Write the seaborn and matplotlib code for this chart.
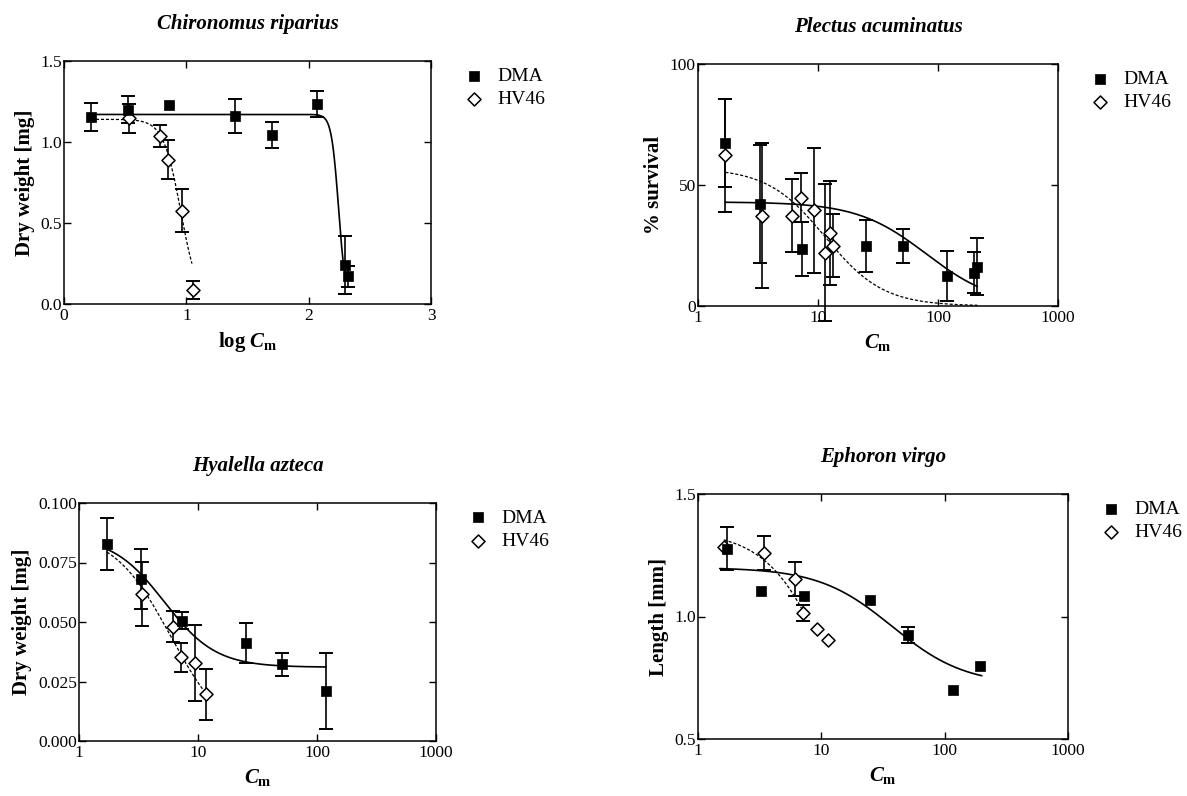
import numpy as np
import pandas as pd
import matplotlib
matplotlib.use("Agg")
import matplotlib.pyplot as plt
import seaborn as sns

sns.set_theme(style="ticks")
plt.rcParams["font.family"] = ["Liberation Serif", "DejaVu Serif"]
plt.rcParams["mathtext.fontset"] = "custom"
plt.rcParams["mathtext.rm"] = "Liberation Serif:bold"
plt.rcParams["mathtext.it"] = "Liberation Serif:bold:italic"
plt.rcParams["mathtext.bf"] = "Liberation Serif:bold"
for k in ["axes.edgecolor", "text.color", "axes.labelcolor", "xtick.color", "ytick.color"]:
    plt.rcParams[k] = "black"

# ---------------- data ----------------
# Chironomus riparius (x = log Cm)
chiro_dma_x = [0.22, 0.52, 0.86, 1.40, 1.70, 2.07, 2.295, 2.325]
chiro_dma_y = [1.153, 1.20, 1.231, 1.161, 1.044, 1.233, 0.242, 0.17]
chiro_dma_err = [0.085, 0.085, np.nan, 0.105, 0.078, 0.08, 0.18, 0.065]
chiro_hv_x = [0.535, 0.785, 0.848, 0.967, 1.058]
chiro_hv_y = [1.147, 1.038, 0.89, 0.577, 0.088]
chiro_hv_err = [0.089, 0.067, 0.12, 0.13, 0.055]
# fitted logistic curves: top, x50, slope, x-range
chiro_dma_fit = dict(top=1.17, x50=2.245, k=34.0, x0=0.22, x1=2.283)
chiro_hv_fit = dict(top=1.14, x50=0.955, k=14.0, x0=0.22, x1=1.046)

# Plectus acuminatus
plec_dma_x = [1.69, 3.27, 7.3, 25.2, 51, 118, 199, 213]
plec_dma_y = [67.3, 42.1, 23.6, 24.9, 24.9, 12.4, 13.8, 16.2]
plec_dma_err = [18.3, 24.5, 11.2, 10.7, 7.0, 10.4, 8.6, 11.8]
plec_hv_x = [1.69, 3.41, 6.1, 7.19, 9.25, 11.5, 12.6, 13.4]
plec_hv_y = [62.2, 37.3, 37.3, 44.8, 39.6, 22.1, 30.0, 24.9]
plec_hv_err = [23.5, 30.0, 15.0, 10.0, 25.8, 28.5, 21.5, 13.0]
plec_dma_fit = dict(bottom=0.0, top=43.0, ec50=80.0, b=1.5, x0=1.69, x1=213)
plec_hv_fit = dict(bottom=0.0, top=57.0, ec50=11.5, b=1.8, x0=1.69, x1=213)

# Hyalella azteca
hya_dma_x = [1.72, 3.35, 7.34, 25.1, 50.8, 119]
hya_dma_y = [0.0829, 0.068, 0.0506, 0.041, 0.0323, 0.0211]
hya_dma_err = [0.011, 0.0127, 0.0036, 0.0084, 0.0048, 0.0159]
hya_hv_x = [3.4, 6.15, 7.13, 9.44, 11.7]
hya_hv_y = [0.0618, 0.048, 0.0351, 0.0326, 0.0197]
hya_hv_err = [0.0135, 0.0065, 0.006, 0.016, 0.0107]
hya_dma_fit = dict(bottom=0.031, top=0.086, ec50=5.2, b=2.0, x0=1.72, x1=119)
hya_hv_fit = dict(bottom=0.0, top=0.088, ec50=5.9, b=1.8, x0=1.72, x1=11.7)

# Ephoron virgo
eph_dma_x = [1.71, 3.26, 7.23, 24.8, 50.1, 117, 194]
eph_dma_y = [1.276, 1.103, 1.082, 1.069, 0.923, 0.699, 0.80]
eph_dma_err = [0.088, np.nan, np.nan, np.nan, 0.033, np.nan, np.nan]
eph_hv_x = [1.62, 3.4, 6.07, 7.12, 9.25, 11.4]
eph_hv_y = [1.282, 1.259, 1.153, 1.014, 0.949, 0.903]
eph_hv_err = [np.nan, 0.07, 0.07, 0.031, np.nan, np.nan]
eph_dma_fit = dict(bottom=0.72, top=1.2, ec50=37.4, b=1.46, x0=1.5, x1=200)
eph_hv_fit = dict(bottom=0.0, top=1.35, ec50=14.2, b=1.64, x0=1.62, x1=7.6)

titles = ["Chironomus riparius", "Plectus acuminatus", "Hyalella azteca", "Ephoron virgo"]
ylabels = ["Dry weight [mg]", "% survival", "Dry weight [mg]", "Length [mm]"]
xlabels = [r"log $C_\mathrm{m}$", r"$C_\mathrm{m}$", r"$C_\mathrm{m}$", r"$C_\mathrm{m}$"]
series_names = ["DMA", "HV46"]
log_ticks = [1, 10, 100, 1000]
log_ticklabels = ["1", "10", "100", "1000"]


def logistic(x, top, x50, k, **_):
    return top / (1 + np.exp(k * (x - x50)))


def loglogistic(x, bottom, top, ec50, b, **_):
    return bottom + (top - bottom) / (1 + (x / ec50) ** b)


# ---------------- figure ----------------
W, H = 1187, 796
fig = plt.figure(figsize=(W / 100, H / 100), dpi=100)


def add_axes(l, r, t, b):
    return fig.add_axes([l / W, 1 - b / H, (r - l) / W, (b - t) / H])


axes = [add_axes(64, 431, 61, 304), add_axes(698, 1058, 64, 306),
        add_axes(79, 436, 503, 741), add_axes(698, 1068, 494, 739)]


def curve_frame(fit, func, logx):
    if logx:
        xs = np.geomspace(fit["x0"], fit["x1"], 300)
    else:
        xs = np.linspace(fit["x0"], fit["x1"], 300)
    return pd.DataFrame({"x": xs, "y": func(xs, **fit)})


def draw(ax, dma, hv, dma_fit, hv_fit, func, logx):
    # fitted curves
    dfa = curve_frame(dma_fit, func, logx)
    dfb = curve_frame(hv_fit, func, logx)
    sns.lineplot(data=dfa, x="x", y="y", ax=ax, color="black", lw=1.2,
                 legend=False, zorder=2, sort=False)
    sns.lineplot(data=dfb, x="x", y="y", ax=ax, color="black", lw=0.9,
                 legend=False, zorder=2, sort=False, dashes=False)
    ax.lines[-1].set_dashes([2.5, 1.5])
    # error bars
    for (x, y, e) in [dma, hv]:
        cont = ax.errorbar(x, y, yerr=e, fmt="none", ecolor="black",
                           elinewidth=1.2, capsize=4.8, capthick=1.4, zorder=3)
        for art in cont.lines[1] + cont.lines[2]:
            art.set_clip_on(False)
    # markers
    sns.scatterplot(x=hv[0], y=hv[1], ax=ax, marker="D", s=44, color="white",
                    edgecolor="black", linewidth=1.1, zorder=4, label=series_names[1])
    sns.scatterplot(x=dma[0], y=dma[1], ax=ax, marker="s", s=58, color="black",
                    edgecolor="black", linewidth=0.5, zorder=5, label=series_names[0])
    h, l = ax.get_legend_handles_labels()
    order = [l.index(series_names[0]), l.index(series_names[1])]
    ax.legend([h[i] for i in order], [l[i] for i in order], loc="upper left",
              bbox_to_anchor=(1.095, 0.975), frameon=False, fontsize=14,
              borderaxespad=0, borderpad=0, handlelength=0.8, handletextpad=0.8,
              labelspacing=0.3)


draw(axes[0], (chiro_dma_x, chiro_dma_y, chiro_dma_err), (chiro_hv_x, chiro_hv_y, chiro_hv_err),
     chiro_dma_fit, chiro_hv_fit, logistic, False)
draw(axes[1], (plec_dma_x, plec_dma_y, plec_dma_err), (plec_hv_x, plec_hv_y, plec_hv_err),
     plec_dma_fit, plec_hv_fit, loglogistic, True)
draw(axes[2], (hya_dma_x, hya_dma_y, hya_dma_err), (hya_hv_x, hya_hv_y, hya_hv_err),
     hya_dma_fit, hya_hv_fit, loglogistic, True)
draw(axes[3], (eph_dma_x, eph_dma_y, eph_dma_err), (eph_hv_x, eph_hv_y, eph_hv_err),
     eph_dma_fit, eph_hv_fit, loglogistic, True)

# axes formatting
axes[0].set_xlim(0, 3)
axes[0].set_xticks([0, 1, 2, 3])
axes[0].set_xticklabels(["0", "1", "2", "3"])
axes[0].set_ylim(0, 1.5)
axes[0].set_yticks([0, 0.5, 1.0, 1.5])
axes[0].set_yticklabels(["0.0", "0.5", "1.0", "1.5"])

axes[1].set_ylim(0, 100)
axes[1].set_yticks([0, 50, 100])
axes[1].set_yticklabels(["0", "50", "100"])

axes[2].set_ylim(0, 0.1)
axes[2].set_yticks([0, 0.025, 0.05, 0.075, 0.1])
axes[2].set_yticklabels(["0.000", "0.025", "0.050", "0.075", "0.100"])

axes[3].set_ylim(0.5, 1.5)
axes[3].set_yticks([0.5, 1.0, 1.5])
axes[3].set_yticklabels(["0.5", "1.0", "1.5"])

for ax in axes[1:]:
    ax.set_xscale("log")
    ax.set_xlim(1, 1000)
    ax.set_xticks(log_ticks)
    ax.set_xticklabels(log_ticklabels)
    ax.minorticks_off()

for i, ax in enumerate(axes):
    ax.set_title(titles[i], fontsize=15, fontweight="bold", fontstyle="italic", pad=23)
    ax.set_ylabel(ylabels[i], fontsize=15, fontweight="bold")
    ax.set_xlabel(xlabels[i], fontsize=15, fontweight="bold")
    ax.tick_params(axis="both", which="major", direction="in", length=5, width=1,
                   top=True, right=True, labelsize=12.5)
    ax.tick_params(axis="x", pad=3)
    ax.tick_params(axis="y", pad=1.5)
    for sp in ax.spines.values():
        sp.set_visible(True)
        sp.set_linewidth(1.1)
        sp.set_color("black")
    ax.grid(False)
    ax.set_facecolor("white")

fig.savefig("out.png", dpi=100, facecolor="white")
